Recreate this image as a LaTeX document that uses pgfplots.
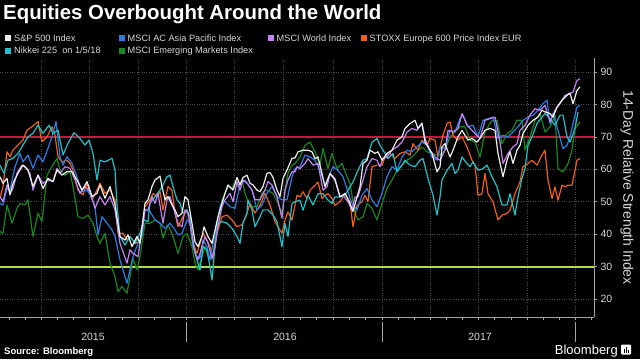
\documentclass[border=0pt]{standalone}
\usepackage{pgfplots}
\pgfplotsset{compat=1.18}
\usepackage{fontspec}
\setmainfont{Liberation Sans}
\definecolor{gridc}{RGB}{72,72,72}
\definecolor{axisc}{RGB}{165,165,165}
\definecolor{txtc}{RGB}{215,215,215}
\definecolor{cWhite}{RGB}{238,238,238}
\definecolor{cBlue}{RGB}{40,125,225}
\definecolor{cPurple}{RGB}{195,130,240}
\definecolor{cOrange}{RGB}{240,95,20}
\definecolor{cCyan}{RGB}{25,195,200}
\definecolor{cGreen}{RGB}{20,135,30}
\definecolor{cRed}{RGB}{195,25,60}
\definecolor{cLime}{RGB}{175,225,70}
\begin{document}
\begin{tikzpicture}[x=1pt,y=1pt]
\fill[black] (0,0) rectangle (640,359);
\useasboundingbox (0,0) rectangle (640,359);
\begin{axis}[
  at={(0pt,42pt)}, anchor=south west,
  scale only axis, width=594pt, height=259pt,
  xmin=0, xmax=594, ymin=14.5, ymax=94.3,
  axis x line*=bottom, axis y line*=right,
  axis line style={-, axisc, line width=0.8pt},
  xtick={41,89,138,186,234,283,333,382,430,478,527,575},
  xticklabels={},
  minor xtick={9,25,57,73,105,122,154,170,202,218,250,267,300,316,349,365,398,414,446,462,494,511,543,559,591},
  ytick={20,30,40,50,60,70,80,90},
  tick align=outside,
  major tick length=3pt, minor tick length=3pt,
  tick style={axisc, line width=0.6pt},
  xmajorgrids, ymajorgrids,
  major grid style={gridc, dotted, line width=0.6pt},
  yticklabel style={font=\fontsize{10.5}{12}\selectfont, text=txtc},
  /pgf/number format/assume math mode=true,
  every axis plot/.append style={no markers, line join=round, line width=1.2pt},
]
% reference levels
\addplot[cRed, line width=1.7pt] coordinates {(0,70) (594,70)};
\addplot[cLime, line width=1.7pt] coordinates {(0,30) (594,30)};
% MSCI Emerging Markets
\addplot[cGreen] coordinates {(0,40.8)(3,40.3)(7,49.0)(12,43.4)(17,48.0)(20,49.5)(25,49.0)(28,50.6)(33,39.3)(38,46.5)(42,43.9)(47,58.2)(52,60.8)(57,63.4)(60,59.8)(65,58.2)(70,59.3)(73,54.7)(78,45.4)(83,44.9)(88,45.9)(93,43.4)(97,39.3)(100,37.2)(105,40.3)(110,31.1)(115,27.0)(118,22.3)(122,23.9)(127,21.8)(130,27.0)(133,32.6)(137,29.0)(140,33.1)(145,43.4)(150,43.4)(155,44.4)(160,43.4)(163,38.8)(168,42.9)(173,39.3)(178,34.1)(183,39.3)(187,40.3)(192,36.2)(195,31.1)(198,29.0)(202,33.1)(205,36.2)(208,33.1)(212,32.1)(215,38.2)(218,44.4)(222,50.6)(225,52.6)(228,54.7)(232,54.1)(235,56.2)(238,54.7)(242,56.7)(245,52.6)(248,50.0)(252,48.5)(257,48.5)(262,52.6)(265,53.6)(270,53.1)(273,52.6)(278,49.5)(282,46.5)(285,53.6)(288,58.8)(292,61.3)(295,61.8)(300,63.8)(305,67.4)(310,68.4)(315,65.4)(320,61.3)(323,66.4)(328,60.2)(332,64.9)(337,60.2)(342,61.8)(347,57.7)(350,55.6)(355,46.4)(358,44.4)(363,45.4)(367,49.5)(372,47.9)(377,44.4)(382,49.5)(387,54.1)(392,56.7)(397,59.7)(402,61.3)(407,62.8)(412,63.8)(417,65.4)(422,66.9)(427,65.4)(432,64.9)(437,64.4)(440,64.4)(445,65.9)(450,70.0)(455,71.5)(460,73.1)(465,73.1)(470,69.0)(475,68.4)(480,63.8)(485,71.5)(492,75.1)(497,75.1)(502,67.9)(507,71.0)(512,72.0)(517,75.1)(522,75.1)(525,65.9)(530,70.0)(535,75.1)(540,77.2)(545,71.5)(550,73.1)(555,76.7)(558,60.2)(563,59.2)(568,61.8)(572,65.9)(575,72.6)(580,74.6)};
% STOXX Europe 600
\addplot[cOrange] coordinates {(0,51.1)(3,54.7)(7,65.4)(10,63.9)(13,65.9)(18,67.5)(23,69.0)(27,72.1)(32,73.1)(38,74.7)(42,68.5)(47,70.0)(52,73.1)(55,70.6)(58,63.9)(62,62.3)(67,62.8)(70,61.8)(73,59.8)(78,53.6)(83,52.1)(87,55.7)(92,50.6)(97,53.6)(100,55.7)(105,52.6)(110,53.6)(115,50.6)(118,40.3)(123,40.3)(127,38.2)(130,39.3)(135,37.2)(140,37.7)(145,48.5)(150,50.6)(153,52.6)(157,51.6)(160,53.1)(163,47.5)(168,54.7)(172,53.6)(175,46.5)(178,42.3)(183,45.4)(187,47.5)(190,43.4)(193,37.2)(197,34.1)(200,37.2)(203,40.3)(207,38.2)(210,36.2)(213,32.6)(217,40.3)(222,45.4)(227,45.9)(232,44.4)(237,42.3)(242,42.9)(247,46.5)(250,49.5)(255,46.5)(260,49.0)(265,52.6)(270,49.0)(275,43.9)(278,42.3)(282,40.3)(285,44.4)(288,46.9)(292,44.4)(297,52.0)(300,51.5)(303,53.1)(307,51.0)(310,53.6)(315,55.1)(318,56.1)(322,51.0)(325,52.0)(328,52.5)(332,51.0)(335,48.9)(340,50.0)(345,52.5)(350,50.0)(353,42.3)(357,48.9)(362,50.0)(365,52.0)(368,50.0)(372,60.8)(377,61.3)(382,61.3)(385,63.8)(390,64.9)(395,63.3)(400,64.9)(405,65.4)(410,64.4)(413,67.9)(418,65.9)(422,69.0)(427,67.4)(430,69.5)(435,69.0)(438,63.8)(443,70.5)(447,74.1)(450,74.6)(453,70.5)(458,69.0)(462,70.0)(467,66.9)(472,62.8)(475,61.3)(478,52.0)(482,52.5)(485,58.7)(488,52.5)(493,50.0)(498,44.4)(502,45.9)(507,46.4)(510,47.4)(515,52.5)(520,56.1)(523,60.8)(528,61.8)(532,62.8)(537,61.3)(542,64.4)(545,65.9)(548,56.7)(552,51.0)(555,54.6)(558,50.5)(562,55.1)(565,54.6)(568,55.1)(572,55.1)(575,59.7)(577,62.8)(580,63.3)};
% MSCI AC Asia Pacific
\addplot[cBlue] coordinates {(0,49.5)(3,49.0)(7,54.1)(10,53.6)(15,60.8)(20,64.9)(23,62.3)(28,64.4)(33,60.3)(38,64.4)(43,62.3)(48,66.5)(52,70.0)(56,74.7)(60,63.9)(63,61.3)(67,63.9)(72,61.8)(77,57.7)(82,53.1)(87,53.6)(92,51.1)(95,48.5)(98,39.8)(102,45.4)(107,43.4)(112,41.3)(115,39.3)(120,32.1)(123,29.0)(127,24.9)(130,29.0)(133,33.1)(138,37.2)(142,39.3)(145,47.5)(150,47.0)(155,44.4)(160,43.4)(165,41.8)(170,43.4)(175,41.3)(178,39.8)(182,40.3)(187,44.4)(190,43.4)(193,36.2)(197,33.1)(200,32.6)(203,38.2)(207,36.2)(210,32.1)(213,37.2)(217,43.4)(220,48.5)(223,50.6)(227,49.5)(230,48.5)(235,48.0)(240,55.2)(245,56.7)(252,53.6)(257,47.5)(262,49.0)(267,52.6)(272,54.7)(277,51.6)(282,50.6)(287,50.6)(292,57.7)(295,60.2)(300,60.8)(305,64.4)(310,63.8)(315,62.8)(320,59.7)(325,55.1)(328,57.2)(333,60.8)(338,59.7)(343,57.7)(348,53.1)(352,49.5)(357,47.4)(362,52.0)(367,54.1)(372,50.5)(377,48.5)(382,52.6)(387,57.7)(392,60.8)(397,59.7)(402,63.8)(407,65.9)(412,65.4)(417,66.9)(422,68.4)(427,67.4)(432,63.8)(437,62.8)(440,66.9)(445,66.4)(450,72.0)(455,71.5)(460,75.6)(463,76.7)(468,73.1)(473,73.6)(478,70.0)(483,75.1)(488,75.6)(493,76.1)(498,69.5)(503,70.5)(508,70.0)(513,71.5)(518,73.1)(523,75.1)(528,76.1)(533,76.7)(538,78.2)(543,80.2)(547,81.3)(550,74.1)(553,77.2)(558,72.0)(563,66.4)(567,67.4)(570,70.0)(573,74.1)(577,79.2)(580,79.7)};
% Nikkei 225
\addplot[cCyan] coordinates {(0,61.3)(4,58.8)(8,62.8)(13,63.4)(18,64.9)(23,67.5)(28,70.0)(33,71.1)(38,73.6)(43,71.1)(49,73.6)(53,71.1)(58,72.1)(63,64.4)(68,68.0)(74,71.3)(80,69.5)(85,67.5)(89,69.0)(93,64.9)(97,56.7)(100,62.8)(105,62.3)(112,63.4)(115,59.8)(117,49.0)(120,39.3)(125,36.7)(130,39.3)(135,37.2)(140,40.3)(144,44.4)(148,43.9)(150,49.5)(155,51.6)(160,53.6)(163,55.2)(167,57.7)(170,58.2)(173,54.7)(177,50.6)(180,49.5)(183,46.5)(187,47.5)(190,45.4)(193,37.2)(197,32.1)(200,29.0)(203,36.2)(207,35.2)(210,30.0)(212,25.9)(215,36.2)(218,43.3)(222,43.9)(227,43.4)(232,41.8)(237,39.3)(240,37.2)(243,43.4)(247,46.5)(248,50.6)(252,47.5)(255,42.3)(260,45.4)(263,47.5)(268,47.5)(273,45.9)(277,43.9)(280,39.3)(282,36.2)(285,43.3)(288,39.3)(292,49.5)(295,50.0)(300,50.5)(303,47.4)(308,52.0)(313,49.0)(318,52.5)(323,52.5)(328,50.5)(332,49.5)(335,51.5)(340,51.5)(345,52.0)(348,53.6)(353,56.1)(358,59.7)(363,62.8)(367,63.3)(372,68.4)(377,69.5)(380,67.4)(385,64.9)(388,63.3)(393,64.9)(397,59.2)(402,61.3)(405,62.8)(410,61.3)(415,60.8)(420,62.8)(423,63.3)(428,57.2)(433,52.0)(437,45.9)(440,51.5)(442,56.7)(447,59.7)(452,61.8)(455,58.7)(458,59.7)(462,63.8)(467,61.8)(470,60.8)(473,62.3)(478,59.7)(483,60.2)(487,61.3)(492,57.7)(497,54.6)(502,49.0)(507,49.0)(510,52.5)(515,45.9)(518,51.5)(522,57.2)(525,60.2)(528,67.4)(532,70.0)(537,74.1)(542,76.1)(545,77.2)(550,75.6)(555,73.6)(560,76.7)(563,76.7)(567,70.0)(570,68.4)(575,72.6)(578,77.7)};
% MSCI World
\addplot[cPurple] coordinates {(0,51.6)(3,50.0)(7,55.2)(10,52.6)(13,54.1)(17,58.8)(22,61.3)(25,60.8)(30,58.8)(33,53.6)(38,58.2)(43,55.7)(48,56.7)(53,56.2)(57,60.3)(60,58.8)(65,60.8)(70,60.3)(75,56.7)(80,52.6)(85,54.7)(90,53.1)(95,48.0)(100,51.6)(105,49.0)(110,51.6)(115,47.5)(120,37.2)(127,31.1)(130,35.2)(133,34.1)(138,33.1)(145,47.5)(148,47.5)(152,51.6)(155,49.5)(158,52.6)(163,43.4)(167,50.6)(170,51.6)(173,48.5)(178,43.4)(182,42.3)(185,47.5)(188,46.5)(192,40.3)(195,34.1)(198,32.1)(202,36.2)(205,39.3)(208,37.2)(212,32.6)(215,36.2)(218,42.3)(222,48.5)(225,50.6)(230,52.6)(233,50.0)(237,56.2)(240,53.6)(243,56.7)(247,55.7)(252,53.6)(255,50.6)(260,50.6)(265,53.6)(268,56.2)(272,55.2)(277,51.6)(282,44.9)(285,53.6)(288,56.7)(292,59.3)(295,59.2)(297,60.8)(300,60.2)(305,61.8)(308,63.3)(313,61.3)(318,61.8)(323,53.6)(327,54.6)(330,58.7)(335,57.2)(340,51.5)(343,52.0)(348,50.0)(352,47.4)(355,51.5)(358,51.5)(363,56.7)(367,60.8)(372,63.3)(377,62.8)(380,60.8)(383,63.3)(387,63.8)(392,65.9)(397,66.9)(402,68.4)(407,71.5)(412,72.6)(417,72.0)(422,74.3)(425,69.5)(430,65.9)(435,63.8)(440,62.8)(445,65.9)(448,72.0)(453,71.5)(458,72.6)(462,77.2)(467,73.6)(472,72.0)(475,71.0)(480,69.5)(485,75.1)(490,75.6)(495,76.1)(500,68.4)(503,61.8)(508,64.9)(513,66.9)(517,67.9)(520,72.0)(525,73.6)(530,76.7)(535,78.7)(540,78.2)(545,79.7)(550,74.6)(555,78.2)(560,80.2)(565,82.8)(570,83.3)(573,83.8)(577,87.4)(580,87.9)};
% S&P 500
\addplot[cWhite] coordinates {(0,57.7)(3,55.7)(7,57.2)(10,52.1)(13,55.7)(18,58.8)(23,61.3)(28,59.8)(33,54.7)(38,58.2)(43,54.1)(48,57.2)(53,56.2)(57,59.8)(62,58.2)(67,59.3)(72,59.3)(77,56.7)(82,53.6)(87,56.2)(92,51.6)(97,52.6)(100,55.2)(105,51.1)(110,54.7)(115,49.0)(120,39.3)(125,38.2)(128,39.8)(132,36.2)(137,39.3)(140,37.2)(145,49.5)(148,50.6)(152,54.7)(155,56.7)(160,57.9)(162,54.7)(165,50.6)(168,51.6)(172,49.0)(175,47.5)(178,45.4)(182,46.5)(185,51.6)(188,50.6)(192,43.4)(195,37.7)(198,36.2)(202,39.3)(204,42.3)(208,39.3)(212,37.2)(215,41.3)(218,45.4)(222,49.5)(225,52.6)(228,55.2)(233,53.6)(237,57.5)(240,55.2)(243,57.5)(247,58.2)(250,55.7)(253,55.2)(257,53.6)(260,53.1)(263,54.7)(267,58.8)(270,59.0)(273,57.5)(277,53.6)(280,51.6)(283,57.2)(287,59.8)(292,63.4)(295,63.5)(298,65.4)(303,65.9)(308,65.9)(312,65.4)(315,63.3)(318,63.8)(322,58.7)(325,54.6)(330,58.7)(335,56.7)(340,51.5)(345,52.6)(350,49.5)(353,47.0)(357,51.5)(360,54.6)(363,61.8)(367,62.8)(370,65.9)(375,64.9)(378,65.4)(382,62.8)(387,64.9)(392,65.9)(397,69.0)(402,70.0)(405,72.6)(410,74.1)(415,75.1)(418,72.6)(422,74.1)(425,68.4)(428,66.9)(432,64.9)(437,59.2)(440,60.8)(442,66.9)(445,67.9)(450,63.8)(453,65.9)(458,70.0)(462,72.0)(465,70.5)(468,69.0)(472,69.5)(477,68.4)(480,69.5)(485,72.0)(490,72.6)(495,72.0)(498,64.9)(503,57.7)(507,62.8)(510,65.4)(513,61.8)(517,65.9)(520,67.4)(523,71.0)(528,73.6)(533,75.1)(538,76.1)(542,78.2)(545,77.7)(550,77.2)(553,76.1)(557,79.2)(562,81.3)(567,82.8)(570,83.5)(573,80.2)(577,84.3)(580,85.4)};
\end{axis}
% title
\node[anchor=base west, inner sep=0pt, text=white, font=\fontsize{20.4}{24}\selectfont\bfseries] at (3,339) {Equities Overbought Around the World};
% legend
\begin{scope}[every node/.style={anchor=base west, inner sep=0pt, text=txtc, font=\fontsize{9.2}{11}\selectfont}]
\fill[cWhite] (5,318) rectangle (11,324);
\node at (14,317.7) {S\&P 500 Index};
\fill[cBlue] (119,318) rectangle (125,324);
\node at (127.5,317.7) {MSCI AC Asia Pacific Index};
\fill[cPurple] (268,318) rectangle (274,324);
\node at (276.5,317.7) {MSCI World Index};
\fill[cOrange] (361,318) rectangle (367,324);
\node at (369.5,317.7) {STOXX Europe 600 Price Index EUR};
\fill[cCyan] (5,305.3) rectangle (11,311.3);
\node at (14,305) {Nikkei 225\ \ on 1/5/18};
\fill[cGreen] (119,305.3) rectangle (125,311.3);
\node at (127.5,305) {MSCI Emerging Markets Index};
\end{scope}
% y axis title
\node[rotate=-90, text=txtc, font=\fontsize{14}{16}\selectfont] at (627,171.5) {14-Day Relative Strength Index};
% years
\begin{scope}[every node/.style={text=txtc, font=\fontsize{10.5}{12}\selectfont}]
\node at (93,22) {2015};
\node at (285,22) {2016};
\node at (480,22) {2017};
\end{scope}
\draw[axisc, line width=0.6pt] (186,17) -- (186,37);
\draw[axisc, line width=0.6pt] (382,17) -- (382,37);
\draw[axisc, line width=0.6pt] (575,17) -- (575,37);
% footer
\node[anchor=base west, inner sep=0pt, text=white, font=\fontsize{9.5}{11}\selectfont\bfseries] at (4,4.5) {Source: Bloomberg};
\node[anchor=base east, inner sep=0pt, text=white, font=\fontsize{13}{15}\selectfont] at (618,4.5) {Bloomberg};
\fill[white, rounded corners=1pt] (621,4.5) rectangle (631,14.5);
\fill[black] (623.5,6.5) rectangle (624.7,10);
\fill[black] (625.5,6.5) rectangle (626.7,12);
\fill[black] (627.5,6.5) rectangle (628.7,9);
\end{tikzpicture}
\end{document}
